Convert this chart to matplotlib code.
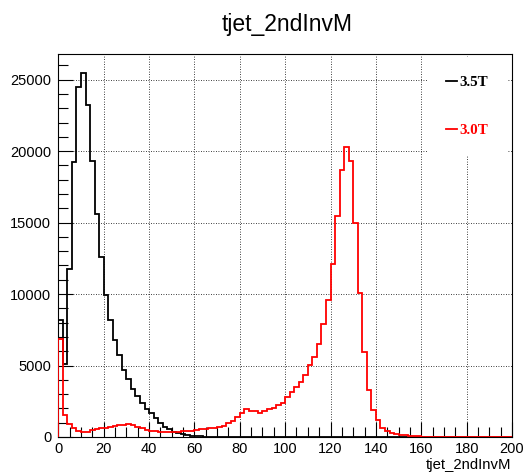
import numpy as np
import matplotlib
matplotlib.use("Agg")
import matplotlib.pyplot as plt
from matplotlib.lines import Line2D
from matplotlib.ticker import MultipleLocator

# histogram: 100 bins of width 2 from 0 to 200
edges = np.arange(0, 202, 2)

counts_35T = [8170, 5140, 11770, 19220, 24500, 25500, 23240, 19290, 15610, 12590,
              9910, 8170, 6770, 5720, 4720, 4090, 3330, 2860, 2350, 1930,
              1650, 1300, 950, 680, 540, 380, 270, 190, 130, 90,
              60, 40, 25, 15, 10, 5] + [0] * 64

counts_30T = [6890, 1535, 907, 605, 440, 370, 370, 490, 540, 605,
              650, 720, 760, 830, 830, 900, 810, 720, 600, 490,
              440, 400, 380, 370, 350, 370, 380, 400, 420, 450,
              490, 530, 560, 600, 650, 720, 790, 950, 1110, 1420,
              1700, 1930, 1850, 1850, 1700, 1850, 1990, 2020, 2230, 2380,
              2815, 3160, 3510, 3860, 4330, 5030, 5610, 6540, 7940, 9560,
              12120, 15450, 18710, 20310, 19290, 14960, 10080, 5960, 3280, 1880,
              1190, 600, 420, 300, 220, 160, 120, 90, 60, 40,
              25, 15, 10, 5] + [0] * 16

labels = ["3.5T", "3.0T"]
colors = ["black", "red"]

fig = plt.figure(figsize=(5.28, 4.74), dpi=100)
ax = fig.add_axes([58.3 / 528, 1 - 437 / 474, (512 - 58.3) / 528, (437 - 54.3) / 474])

ax.stairs(counts_35T, edges, color=colors[0], lw=1.3, zorder=3)
ax.stairs(counts_30T, edges, color=colors[1], lw=1.3, zorder=4)

ax.set_xlim(0, 200)
ax.set_ylim(0, 1.05 * max(counts_35T))

ax.xaxis.set_major_locator(MultipleLocator(20))
ax.xaxis.set_minor_locator(MultipleLocator(5))
ax.yaxis.set_major_locator(MultipleLocator(5000))
ax.yaxis.set_minor_locator(MultipleLocator(1000))
ax.tick_params(which="both", direction="in", labelsize=10.5, width=0.8)
ax.tick_params(which="major", length=11)
ax.tick_params(which="minor", length=7)
ax.tick_params(axis="x", pad=3.5)
ax.tick_params(axis="y", pad=5)
for lab in ax.get_xticklabels() + ax.get_yticklabels():
    lab.set_family("Liberation Sans")

ax.grid(True, which="major", color="black", linestyle=(0, (1, 2)), lw=0.6)
ax.set_axisbelow(True)
for sp in ax.spines.values():
    sp.set_linewidth(0.8)

fig.text(287 / 528, 1 - 31.5 / 474, "tjet_2ndInvM", ha="center", va="baseline",
         fontsize=16.5, family="Liberation Sans")
fig.text(511 / 528, 1 - 468.5 / 474, "tjet_2ndInvM", ha="right", va="baseline",
         fontsize=10.7, family="Liberation Sans")

handles = [Line2D([], [], color=c, lw=1.3) for c in colors]
leg = ax.legend(handles, labels, loc="upper right",
                bbox_to_anchor=(507 / 528, 1 - 57 / 474), bbox_transform=fig.transFigure,
                borderaxespad=0, borderpad=1.25, labelspacing=2.3,
                handlelength=0.75, handletextpad=0.15,
                prop={"family": "Liberation Serif", "weight": "bold", "size": 10.8},
                frameon=True, fancybox=False, facecolor="white", edgecolor="none",
                framealpha=1)
for t, c in zip(leg.get_texts(), colors):
    t.set_color(c)

fig.savefig("out.png", dpi=100)
